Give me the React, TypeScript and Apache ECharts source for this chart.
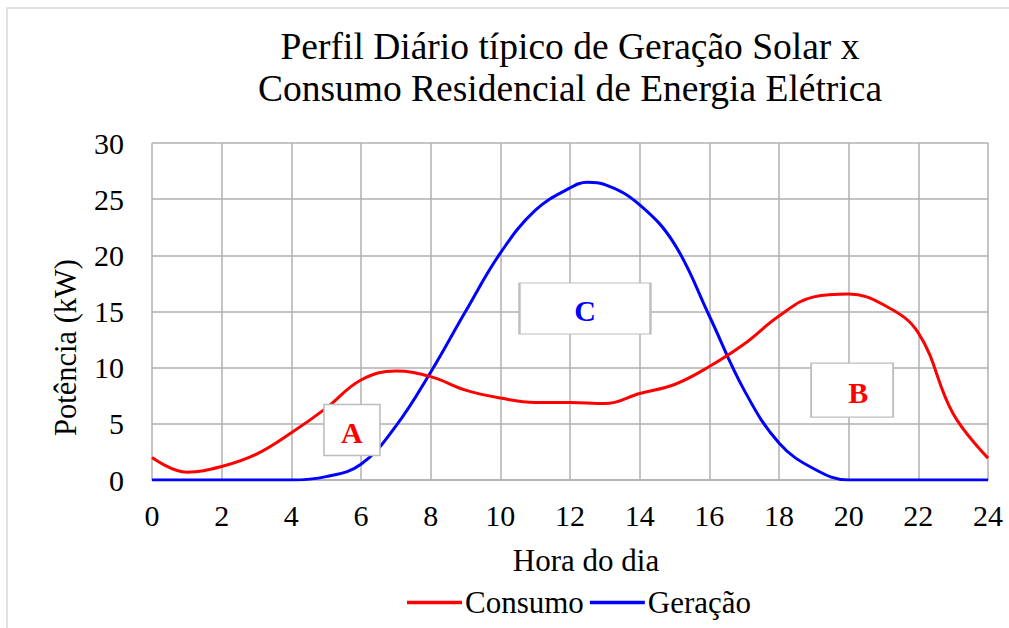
import React, { useEffect, useRef } from "react";
import * as echarts from "echarts";

const consumoHours = [0, 1, 2, 3, 4, 5, 6, 7, 8, 9, 10, 11, 12, 13, 14, 15, 16, 17, 18, 19, 20, 21, 22, 23, 24];
const consumo = [2.0, 0.7, 1.2, 2.3, 4.2, 6.4, 8.9, 9.7, 9.2, 8.0, 7.3, 6.9, 6.9, 6.8, 7.7, 8.5, 10.1, 12.1, 14.6, 16.3, 16.55, 15.6, 13.1, 5.9, 1.95];
const geracaoHours = [0, 1, 2, 3, 4, 5, 6, 7, 8, 9, 10, 11, 12, 12.5, 13, 14, 15, 16, 17, 18, 19, 20, 21, 22, 23, 24];
const geracao = [0, 0, 0, 0, 0, 0.3, 1.4, 4.8, 9.6, 15.0, 20.2, 24.0, 26.0, 26.5, 26.3, 24.5, 21.0, 14.6, 8.0, 3.3, 1.0, 0, 0, 0, 0, 0];

const titleText = "Perfil Diário típico de Geração Solar x\nConsumo Residencial de Energia Elétrica";
const yAxisName = "Potência (kW)";
const xAxisName = "Hora do dia";
const seriesNames = ["Consumo", "Geração"];

// annotation boxes: [label, hour, value, boxWidth, boxHeight, labelOffsetX]
const annotationsConsumo: [string, number, number, number, number, number][] = [
  ["A", 5.74, 4.45, 56, 51, 0],
  ["B", 20.1, 8.0, 82, 54, 6],
];
const annotationsGeracao: [string, number, number, number, number, number][] = [
  ["C", 12.43, 15.27, 131, 51, 0],
];

const FONT = '"Liberation Serif", "Times New Roman", serif';

function markPoints(list: [string, number, number, number, number, number][], color: string) {
  return {
    symbol: "rect",
    silent: true,
    data: list.map(([name, h, v, w, hgt, off]) => ({
      name,
      coord: [h, v],
      symbolSize: [w, hgt],
      itemStyle: { color: "#ffffff", borderColor: "#bdbdbd", borderWidth: 1.5 },
      label: {
        show: true,
        position: "inside",
        formatter: name,
        color,
        fontFamily: FONT,
        fontWeight: "bold",
        fontSize: 30,
        offset: [off, 2],
      },
    })),
  };
}

export default function App() {
  const ref = useRef<HTMLDivElement>(null);
  useEffect(() => {
    if (!ref.current) return;
    const chart = echarts.init(ref.current, null, { renderer: "svg" });
    chart.setOption({
      animation: false,
      backgroundColor: "#ffffff",
      title: {
        text: titleText,
        left: 565,
        top: 20,
        textAlign: "center",
        textStyle: {
          fontFamily: FONT,
          fontWeight: "normal",
          fontSize: 37.5,
          lineHeight: 42,
          color: "#000",
        },
      },
      graphic: [
        {
          type: "rect",
          shape: { x: 7, y: 8, width: 1100, height: 700 },
          style: { fill: "none", stroke: "#d9d9d9", lineWidth: 1.5 },
          silent: true,
          z: -1,
        },
      ],
      legend: {
        left: 402,
        top: 582,
        itemWidth: 55,
        itemHeight: 3.5,
        itemGap: 6,
        icon: "rect",
        textStyle: { fontFamily: FONT, fontSize: 31, color: "#000", padding: [0, 0, 0, -2] },
        data: seriesNames,
      },
      grid: { left: 152, right: 21, top: 143, bottom: 148 },
      xAxis: {
        type: "value",
        min: 0,
        max: 24,
        interval: 2,
        name: xAxisName,
        nameLocation: "middle",
        nameGap: 65,
        nameTextStyle: { fontFamily: FONT, fontSize: 31, color: "#000", padding: [0, 0, 0, 32] },
        axisLine: { show: true, lineStyle: { color: "#b0b0b0", width: 1.5 } },
        axisTick: { show: false },
        axisLabel: { fontFamily: FONT, fontSize: 30, color: "#000", margin: 20 },
        splitLine: { show: true, lineStyle: { color: "#b0b0b0", width: 1.5 } },
      },
      yAxis: {
        type: "value",
        min: 0,
        max: 30,
        interval: 5,
        name: yAxisName,
        nameLocation: "middle",
        nameGap: 71,
        nameRotate: 90,
        nameTextStyle: { fontFamily: FONT, fontSize: 30.5, color: "#000", padding: [0, 72, 0, 0] },
        axisLine: { show: false },
        axisTick: { show: false },
        axisLabel: { fontFamily: FONT, fontSize: 30, color: "#000", margin: 28 },
        splitLine: { show: true, lineStyle: { color: "#b0b0b0", width: 1.5 } },
      },
      series: [
        {
          name: seriesNames[0],
          type: "line",
          data: consumoHours.map((h, i) => [h, consumo[i]]),
          smooth: 0.4,
          symbol: "none",
          color: "#ff0000",
          lineStyle: { color: "#ff0000", width: 3 },
          z: 3,
          markPoint: markPoints(annotationsConsumo, "#ff0000"),
        },
        {
          name: seriesNames[1],
          type: "line",
          data: geracaoHours.map((h, i) => [h, geracao[i]]),
          smooth: 0.4,
          symbol: "none",
          color: "#0000ff",
          lineStyle: { color: "#0000ff", width: 3 },
          z: 2,
          markPoint: markPoints(annotationsGeracao, "#0000ff"),
        },
      ],
    });
    return () => chart.dispose();
  }, []);
  return (
    <div
      ref={ref}
      style={{ position: "absolute", left: 0, top: 0, width: 1009, height: 628 }}
    />
  );
}
